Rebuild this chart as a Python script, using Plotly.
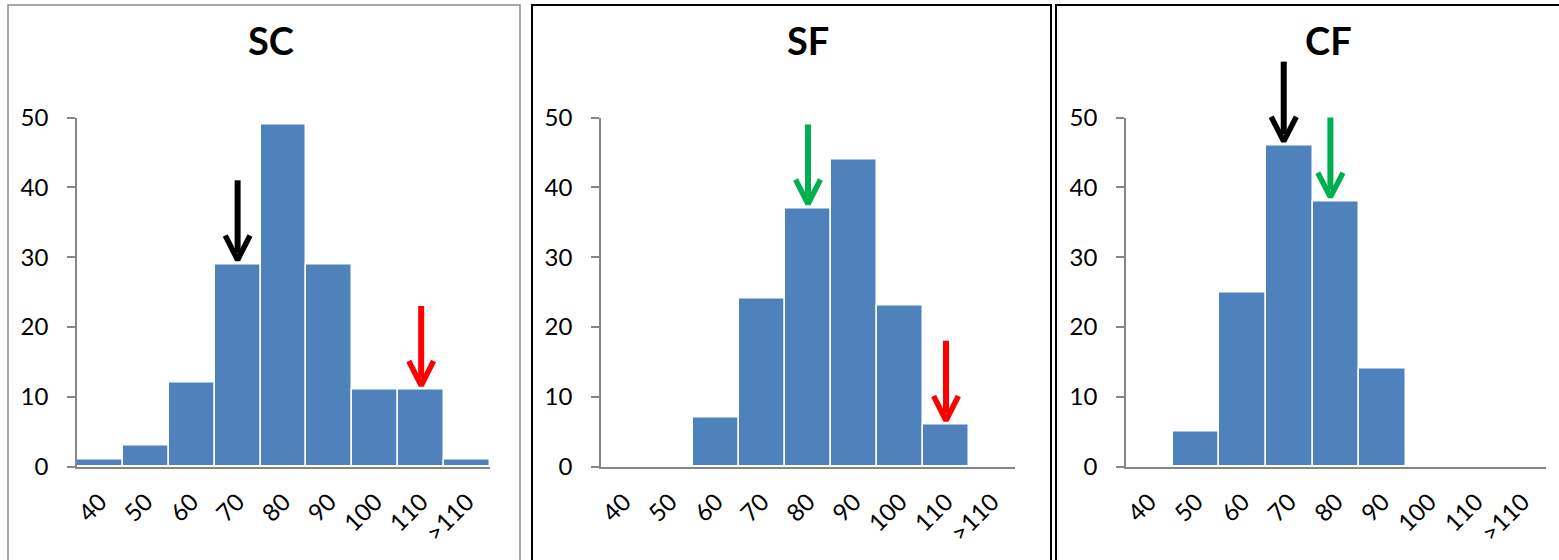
import plotly.graph_objects as go

# ---------------- data ----------------
categories = ["40", "50", "60", "70", "80", "90", "100", "110", ">110"]
panel_titles = ["SC", "SF", "CF"]
sc_values = [1, 3, 12, 29, 49, 29, 11, 11, 1]
sf_values = [0, 0, 7, 24, 37, 44, 23, 6, 0]
cf_values = [0, 5, 25, 46, 38, 14, 0, 0, 0]
y_ticks = [0, 10, 20, 30, 40, 50]

# highlighted bins (arrows): category, colour
sc_arrows = [("70", "black"), ("110", "red")]
sf_arrows = [("80", "green"), ("110", "red")]
cf_arrows = [("70", "black"), ("80", "green")]

# ---------------- style ----------------
W, H = 1559, 560
BAR = "#4F81BD"
AXIS = "#868686"
FONT = "Lato"
COLORS = {"black": "#000000", "red": "#FF0000", "green": "#00B050"}
ARROW_GAP = 0.6      # value units above the bar top
ARROW_LEN = 11.4     # value units
HEAD_DX = 0.27       # category units
HEAD_DY = 3.5        # value units

# pixel geometry of the three plot areas
x_px = [(77, 490), (601, 1015), (1126, 1546)]
y0_px, y50_px = 466.5, 117.5
title_px = [(270.5, 40), (807.5, 40), (1328.7, 40)]
arrow_xshift = [0.0, 0.0, -0.12]

ydom = [1 - y0_px / H, 1 - y50_px / H]
ymax = 50
ext_top = 1.0
ext_range = ymax * (ext_top - ydom[0]) / (ydom[1] - ydom[0])

fig = go.Figure()
series = [sc_values, sf_values, cf_values]
arrows = [sc_arrows, sf_arrows, cf_arrows]
xpos = list(range(len(categories)))

layout = dict(
    width=W, height=H, autosize=False,
    margin=dict(l=0, r=0, t=0, b=0, pad=0, autoexpand=False),
    paper_bgcolor="white", plot_bgcolor="rgba(0,0,0,0)",
    showlegend=False, font=dict(family=FONT, color="black"),
    bargap=0,
)

for i, vals in enumerate(series):
    n = i + 1
    xa = "x" if n == 1 else f"x{n}"
    ya = "y" if n == 1 else f"y{n}"
    fig.add_trace(go.Bar(
        x=xpos, y=vals, xaxis=xa, yaxis=ya, width=1.0,
        marker=dict(color=BAR, line=dict(color="white", width=1.5)),
        hoverinfo="skip",
    ))
    xd = [x_px[i][0] / W, x_px[i][1] / W]
    layout[f"xaxis{'' if n == 1 else n}"] = dict(
        domain=xd, anchor=ya, range=[-0.5, len(categories) - 0.5],
        tickvals=xpos, ticktext=categories, tickangle=-45,
        showline=True, linecolor=AXIS, linewidth=1.5,
        ticks="", showgrid=False, zeroline=False, automargin=False,
        tickfont=dict(family=FONT, size=24, color="black"),
        ticklabelstandoff=10,
    )
    layout[f"yaxis{'' if n == 1 else n}"] = dict(
        domain=ydom, anchor=xa, range=[0, ymax], tickvals=y_ticks,
        showline=True, linecolor=AXIS, linewidth=1.5,
        ticks="outside", ticklen=8, tickcolor=AXIS, tickwidth=1.5,
        showgrid=False, zeroline=False, automargin=False,
        tickfont=dict(family=FONT, size=24, color="black"),
        ticklabelstandoff=14,
    )
    m = n + 3
    layout[f"xaxis{m}"] = dict(domain=xd, anchor=f"y{m}", automargin=False,
                               range=[-0.5, len(categories) - 0.5], visible=False)
    layout[f"yaxis{m}"] = dict(domain=[ydom[0], ext_top], anchor=f"x{m}", automargin=False,
                               range=[0, ext_range], visible=False)
    for cat, col in arrows[i]:
        k = categories.index(cat)
        xc = k + arrow_xshift[i]
        tip = vals[k] + ARROW_GAP
        c = COLORS[col]
        fig.add_trace(go.Scatter(
            x=[xc, xc], y=[tip + 1.0, tip + ARROW_LEN], mode="lines",
            line=dict(color=c, width=6), xaxis=f"x{m}", yaxis=f"y{m}",
            hoverinfo="skip"))
        fig.add_trace(go.Scatter(
            x=[xc - HEAD_DX, xc, xc + HEAD_DX],
            y=[tip + HEAD_DY, tip, tip + HEAD_DY], mode="lines",
            line=dict(color=c, width=5.5), xaxis=f"x{m}", yaxis=f"y{m}",
            hoverinfo="skip"))

annotations = []
for i, t in enumerate(panel_titles):
    annotations.append(dict(
        text=f"<b>{t}</b>", x=title_px[i][0] / W, y=1 - title_px[i][1] / H,
        xref="paper", yref="paper", xanchor="center", yanchor="middle",
        showarrow=False, font=dict(family=FONT, size=38, color="black")))
layout["annotations"] = annotations

top = 1 - 5 / H
layout["shapes"] = [
    dict(type="rect", xref="paper", yref="paper", x0=8 / W, x1=520 / W,
         y0=-0.05, y1=top, line=dict(color="#8C8C8C", width=1.5)),
    dict(type="rect", xref="paper", yref="paper", x0=532 / W, x1=1051 / W,
         y0=-0.05, y1=top, line=dict(color="black", width=2)),
    dict(type="rect", xref="paper", yref="paper", x0=1056 / W, x1=1.05,
         y0=-0.05, y1=top, line=dict(color="black", width=2)),
]

fig.update_layout(**layout)
fig.write_html("out.html")
